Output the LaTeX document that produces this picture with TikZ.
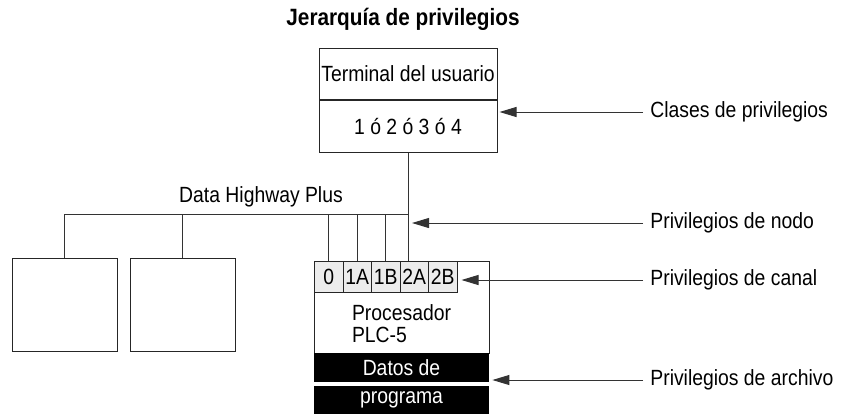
\documentclass[tikz,border=0pt]{standalone}
\usepackage{fontspec}
\setmainfont{Liberation Sans}[FakeStretch=0.88]
\usetikzlibrary{positioning,arrows.meta}
\tikzset{>=latex}
\tikzstyle{box} = [draw=black!85, line width=0.5pt, inner sep=0pt]
\tikzstyle{cell} = [box, fill=gray!15, minimum width=14.25pt, minimum height=15.5pt]
\tikzstyle{band} = [fill=black, text=white, inner sep=0pt, minimum width=87.5pt]
\tikzstyle{wire} = [draw=black!80, line width=0.5pt]
\tikzstyle{ptr} = [wire, ->, >={Triangle[length=8.5pt,width=5pt]}]

\begin{document}
\begin{tikzpicture}[x=0.5pt, y=-0.5pt, font=\fontsize{11}{11}\selectfont]

\useasboundingbox (0,0) rectangle (846,414);

\node [font=\fontsize{11.8}{13}\selectfont\bfseries] (title) at (403,19) {Jerarquía de privilegios};

% terminal
\node [box, minimum width=89pt, minimum height=25.5pt] (term) at (408,73.5) {Terminal del usuario};
\node [box, minimum width=89pt, minimum height=26pt, below=0pt of term] (cls) {1 ó 2 ó 3 ó 4};

% other stations
\node [box, minimum width=52.5pt, minimum height=46.5pt] (st1) at (64.5,304.5) {};
\node [box, minimum width=52.5pt, minimum height=46.5pt] (st2) at (182.5,304.5) {};

% processor
\node [box, minimum width=87.5pt, minimum height=46pt] (plc) at (401.5,307) {};

\foreach \c [count=\i from 0] in {0,1A,1B,2A,2B}
  \node [cell, anchor=north west] (ch-\c) at (314+\i*28.5,261) {\c};

\node [align=left] (plcname) at (401.5,324) {Procesador\\PLC-5};
\node [band, minimum height=14.5pt] (dat1) at (401.5,367.5) {Datos de};
\node [band, minimum height=14pt] (dat2) at (401.5,400) {programa};

% highway
\coordinate (bus-end) at (cls.south |- 0,214);
\draw [wire] (cls.south) -- (cls.south |- ch-2A.north);
\draw [wire] (st1.north) |- (bus-end);
\draw [wire] (st2.north) -- (st2.north |- bus-end);
\foreach \c in {0,1A,1B}
  \draw [wire] (ch-\c.north) -- (ch-\c.north |- bus-end);

\node (dhp) at (261,197) {Data Highway Plus};

% privilege labels
\foreach \n/\t/\y in {lcls/Clases de privilegios/112, lnode/Privilegios de nodo/223,
                      lcan/Privilegios de canal/280, larc/Privilegios de archivo/380}
  \node [anchor=west, inner xsep=3.5pt] (\n) at (643,\y) {\t};

\draw [ptr, shorten >=1pt] (lcls.west) -- (lcls.west -| cls.east);
\draw [ptr, shorten >=2pt] (lnode.west) -- (lnode.west -| bus-end);
\draw [ptr, shorten >=2pt] (lcan.west) -- (lcan.west -| ch-2B.east);
\draw [ptr, shorten >=1.5pt] (larc.west) -- (larc.west -| dat1.east);

\end{tikzpicture}
\end{document}
